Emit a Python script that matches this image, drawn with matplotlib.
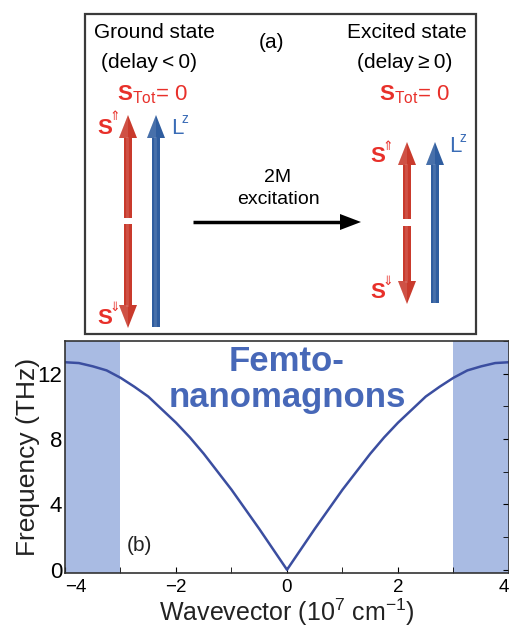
import numpy as np
import matplotlib.pyplot as plt
from matplotlib.patches import Rectangle, Polygon

plt.rcParams['font.family'] = ['Liberation Sans', 'DejaVu Sans']
plt.rcParams['mathtext.fontset'] = 'custom'
plt.rcParams['mathtext.rm'] = 'Liberation Sans'
plt.rcParams['mathtext.bf'] = 'Liberation Sans:bold'

# dispersion (10^7 cm^-1, THz)
wavevector = [-4.0, -3.75, -3.5, -3.25, -3.0, -2.75, -2.5, -2.25, -2.0, -1.75, -1.5,
              -1.25, -1.0, -0.75, -0.5, -0.25, 0.0, 0.25, 0.5, 0.75, 1.0, 1.25, 1.5,
              1.75, 2.0, 2.25, 2.5, 2.75, 3.0, 3.25, 3.5, 3.75, 4.0]
frequency = [12.7, 12.65, 12.45, 12.2, 11.75, 11.2, 10.6, 9.8, 9.0, 8.1, 7.1,
             6.0, 4.9, 3.7, 2.5, 1.25, 0.0, 1.25, 2.5, 3.7, 4.9, 6.0, 7.1,
             8.1, 9.0, 9.8, 10.6, 11.2, 11.75, 12.2, 12.45, 12.65, 12.7]
shade_edges = [(-4.0, -3.0), (3.0, 4.0)]
xticks = [-4, -2, 0, 2, 4]
xticklabels = ['\u22124', '\u22122', '0', '2', '4']
yticks = [0, 4, 8, 12]

RED = '#e8302a'
RED_ARR = '#c93a2c'
BLUE_ARR = '#2f5d9f'
BLUE_TXT = '#3a6cb6'

fig = plt.figure(figsize=(5.1, 6.28), dpi=100)

# ---- panel (b): dispersion ----
ax = fig.add_axes([65/510, 1-573/628, 444/510, 232/628])
for x0, x1 in shade_edges:
    ax.axvspan(x0, x1, color='#a9bbe3', lw=0, zorder=0)
ax.plot(wavevector, frequency, color='#3b4ea0', lw=1.8, zorder=2)
ax.set_xlim(-4, 4)
ax.set_ylim(-0.2, 14)
ax.set_xticks(xticks)
ax.set_xticks([-3, -1, 1, 3], minor=True)
ax.set_yticks(yticks)
ax.set_yticks([2, 6, 10, 14], minor=True)
ax.tick_params(axis='x', which='both', direction='in', length=4, top=False, labelsize=13.5, pad=4)
ax.tick_params(axis='y', which='both', direction='in', length=4, left=False, right=True,
               labelsize=16, pad=2)
ax.set_xticklabels(xticklabels)
tl = ax.get_xticklabels()
tl[0].set_ha('left')
tl[-1].set_ha('right')
for s in ax.spines.values():
    s.set_color('#333333')
    s.set_linewidth(1.2)
ax.set_xlabel('Wavevector (10$^{7}$ cm$^{-1}$)', fontsize=18, labelpad=1, color='#222222')
ax.set_ylabel('Frequency (THz)', fontsize=19, labelpad=-2, color='#222222')
ax.text(0.5, 0.835, 'Femto-\nnanomagnons', transform=ax.transAxes, ha='center', va='center',
        fontsize=25, fontweight='bold', color='#4768b8', linespacing=1.1)
ax.text(-2.65, 1.5, '(b)', fontsize=15, ha='center', va='center', color='#222222')

# ---- panel (a): schematic in pixel coordinates ----
ax0 = fig.add_axes([0, 1-340/628, 1, 340/628])
ax0.set_xlim(0, 510)
ax0.set_ylim(340, 0)
ax0.axis('off')
ax0.add_patch(Rectangle((85, 14), 391, 320, fill=False, ec='#3a3a3a', lw=1.6))


def arrow(x, y_tail, y_tip, color, w=8, hw=18, hl=23):
    d = 1 if y_tip > y_tail else -1
    base = y_tip - d*hl
    ax0.add_patch(Rectangle((x - w/2, min(y_tail, base)), w, abs(base - y_tail),
                            fc=color, ec='none'))
    ax0.plot([x - 1, x - 1], [y_tail, base], color='white', alpha=0.12, lw=2)
    ax0.add_patch(Polygon([(x - hw/2, base), (x + hw/2, base), (x, y_tip)],
                          closed=True, fc=color, ec='none'))
    ax0.add_patch(Polygon([(x - hw/2, base), (x, base), (x, y_tip)],
                          closed=True, fc='white', alpha=0.12, ec='none'))


def spin_label(x, y, arr, color=RED):
    ax0.text(x, y, 'S', fontsize=16, fontweight='bold', color=color, ha='center', va='center')
    ax0.text(x + 10, y - 11, arr, fontsize=9, color=color, ha='center', va='center',
             family='DejaVu Sans')


def lz_label(x, y):
    ax0.text(x, y, 'L', fontsize=16, color=BLUE_TXT, ha='center', va='center')
    ax0.text(x + 8, y - 9, 'z', fontsize=10, color=BLUE_TXT, ha='center', va='center')


# left (ground state)
ax0.text(154, 33, 'Ground state', fontsize=15, ha='center', va='center')
ax0.text(149, 63, '(delay\u2009<\u20090)', fontsize=15, ha='center', va='center')
ax0.text(152, 95, r'$\mathbf{S}_{\rm Tot}$= 0', fontsize=16, color=RED, ha='center', va='center')
arrow(128, 218, 115, RED_ARR)
arrow(128, 224, 328, RED_ARR)
arrow(156, 327, 115, BLUE_ARR)
spin_label(105, 128, '\u21d1')
spin_label(105, 318, '\u21d3')
lz_label(177, 128)

# middle
ax0.text(272, 43, '(a)', fontsize=15, ha='center', va='center')
ax0.text(278, 177, '2M', fontsize=14, ha='center', va='center')
ax0.text(278, 200, 'excitation', fontsize=14, ha='center', va='center')
ax0.plot([193, 342], [222, 222], color='black', lw=2.5, solid_capstyle='butt')
ax0.add_patch(Polygon([(340, 214), (340, 230), (361, 222)], closed=True, fc='black', ec='none'))

# right (excited state)
ax0.text(407, 33, 'Excited state', fontsize=15, ha='center', va='center')
ax0.text(405, 63, '(delay\u2009\u2265\u20090)', fontsize=15, ha='center', va='center')
ax0.text(414, 95, r'$\mathbf{S}_{\rm Tot}$= 0', fontsize=16, color=RED, ha='center', va='center')
arrow(407, 219, 142, RED_ARR)
arrow(407, 226, 304, RED_ARR)
arrow(435, 303, 142, BLUE_ARR)
spin_label(378, 157, '\u21d1')
spin_label(378, 292, '\u21d3')
lz_label(455, 147)

fig.savefig('out.png', dpi=100)
